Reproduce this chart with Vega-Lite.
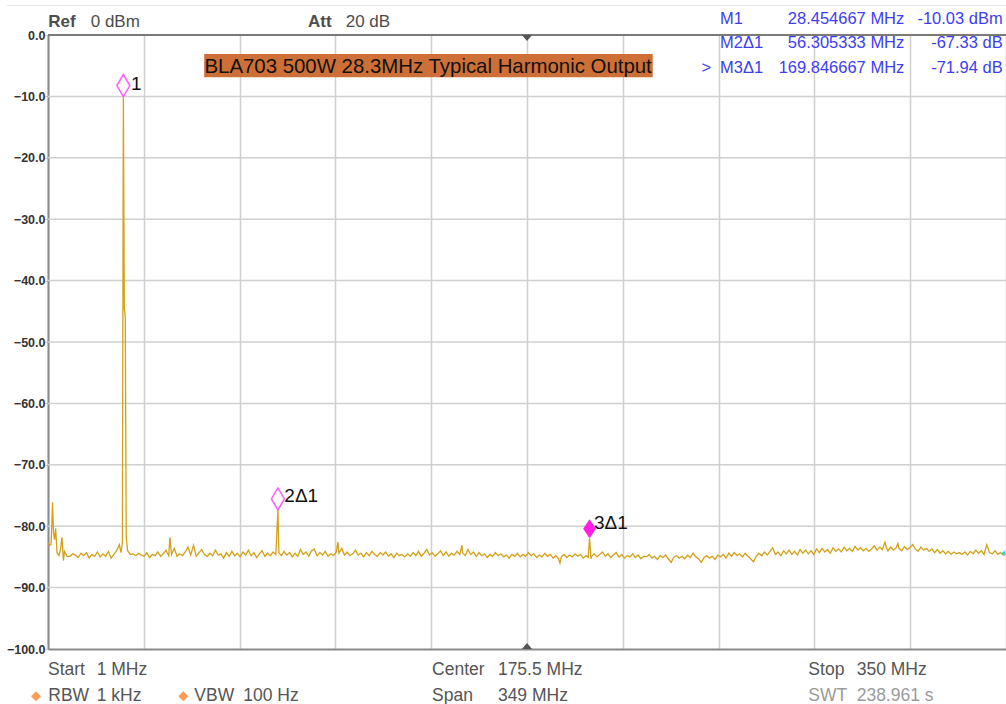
{
"$schema": "https://vega.github.io/schema/vega-lite/v6.json",
"width": 958,
"height": 614,
"autosize": {"type": "none"},
"padding": {"left": 48, "top": 35, "right": 0, "bottom": 55},
"background": "white",
"config": {
  "view": {"stroke": null},
  "axis": {"gridColor": "#d0d0d0", "gridWidth": 1.5, "domainColor": "#8a8a8a", "domainWidth": 2},
  "text": {"font": "Liberation Sans"}
},
"data": {"values": [{}]},
"datasets": {
"levels": [{"db":-10},{"db":-20},{"db":-30},{"db":-40},{"db":-50},{"db":-60},{"db":-70},{"db":-80},{"db":-90}],
"trace": [
{"f":1,"a":-82.8},{"f":1.7,"a":-83.1},{"f":2.1,"a":-83.0},{"f":2.4,"a":-79.7},{"f":2.65,"a":-76.1},{"f":3.0,"a":-81.0},{"f":3.4,"a":-82.2},{"f":3.8,"a":-80.4},{"f":4.3,"a":-84.4},{"f":5,"a":-84.8},{"f":5.5,"a":-83.9},{"f":6.1,"a":-81.8},{"f":6.6,"a":-85.6},{"f":7,"a":-84.1},{"f":8,"a":-84.9},
{"f":9,"a":-84.9},{"f":10,"a":-84.5},{"f":11,"a":-84.7},{"f":12,"a":-85.1},{"f":13,"a":-84.4},{"f":14,"a":-84.8},{"f":15,"a":-84.3},{"f":16,"a":-85.2},{"f":17,"a":-84.6},{"f":18,"a":-84.9},{"f":19,"a":-84.2},{"f":20,"a":-85.0},{"f":21,"a":-84.5},{"f":22,"a":-84.9},{"f":23,"a":-84.1},{"f":24,"a":-85.2},{"f":25,"a":-84.6},{"f":26,"a":-84.0},{"f":27,"a":-83.0},{"f":27.6,"a":-84.3},
{"f":28.1,"a":-82.7},{"f":28.45,"a":-10.03},{"f":28.8,"a":-44.5},{"f":29.15,"a":-46.0},{"f":29.5,"a":-81.8},{"f":30,"a":-84.0},
{"f":31,"a":-84.6},{"f":32,"a":-84.5},{"f":33,"a":-84.8},{"f":34,"a":-84.4},{"f":35,"a":-84.7},{"f":36,"a":-84.9},{"f":37,"a":-84.3},{"f":38,"a":-85.1},{"f":39,"a":-84.6},{"f":40,"a":-84.8},{"f":41,"a":-84.2},{"f":42,"a":-84.9},{"f":43,"a":-84.5},{"f":44,"a":-83.9},{"f":45,"a":-84.8},{"f":45.4,"a":-81.8},{"f":46,"a":-84.6},{"f":47,"a":-83.6},{"f":48,"a":-84.9},{"f":49,"a":-84.5},{"f":50,"a":-84.8},
{"f":51,"a":-84.2},{"f":52,"a":-83.4},{"f":53,"a":-84.7},{"f":54,"a":-83.1},{"f":55,"a":-84.9},{"f":56,"a":-84.3},{"f":57,"a":-83.8},{"f":58,"a":-84.6},{"f":59,"a":-84.9},{"f":60,"a":-84.4},{"f":61,"a":-84.8},{"f":62,"a":-83.9},{"f":63,"a":-84.7},{"f":64,"a":-84.5},{"f":65,"a":-85.2},{"f":66,"a":-84.3},{"f":67,"a":-84.9},{"f":68,"a":-84.1},{"f":69,"a":-84.8},{"f":70,"a":-84.4},
{"f":71,"a":-85.0},{"f":72,"a":-84.2},{"f":73,"a":-84.7},{"f":74,"a":-83.9},{"f":75,"a":-84.8},{"f":76,"a":-84.3},{"f":77,"a":-85.1},{"f":78,"a":-84.5},{"f":79,"a":-84.0},{"f":80,"a":-84.9},{"f":81,"a":-84.4},{"f":82,"a":-84.8},{"f":83,"a":-84.2},{"f":84,"a":-84.6},{"f":84.4,"a":-80.7},{"f":84.76,"a":-77.36},{"f":85.1,"a":-84.3},{"f":86,"a":-84.8},{"f":87,"a":-84.1},{"f":88,"a":-84.7},{"f":89,"a":-84.3},{"f":90,"a":-85.0},
{"f":91,"a":-84.4},{"f":92,"a":-84.9},{"f":93,"a":-83.8},{"f":94,"a":-84.6},{"f":95,"a":-84.2},{"f":96,"a":-84.9},{"f":97,"a":-84.0},{"f":98,"a":-83.7},{"f":99,"a":-84.8},{"f":100,"a":-84.3},{"f":101,"a":-84.7},{"f":102,"a":-84.1},{"f":103,"a":-84.9},{"f":104,"a":-84.5},{"f":105,"a":-84.8},{"f":106,"a":-84.2},{"f":106.6,"a":-82.6},{"f":107,"a":-84.4},{"f":108,"a":-83.6},{"f":109,"a":-84.7},{"f":110,"a":-84.2},
{"f":111,"a":-84.8},{"f":112,"a":-84.5},{"f":113,"a":-83.9},{"f":114,"a":-84.7},{"f":115,"a":-84.4},{"f":116,"a":-85.0},{"f":117,"a":-84.3},{"f":118,"a":-84.8},{"f":119,"a":-84.1},{"f":120,"a":-84.6},{"f":121,"a":-84.9},{"f":122,"a":-84.3},{"f":123,"a":-84.7},{"f":124,"a":-84.2},{"f":125,"a":-84.9},{"f":126,"a":-84.5},{"f":127,"a":-85.1},{"f":128,"a":-84.4},{"f":129,"a":-84.8},{"f":130,"a":-84.6},
{"f":131,"a":-85.0},{"f":132,"a":-84.5},{"f":133,"a":-84.9},{"f":134,"a":-84.3},{"f":135,"a":-84.8},{"f":136,"a":-84.1},{"f":137,"a":-84.9},{"f":138,"a":-84.4},{"f":139,"a":-83.8},{"f":140,"a":-84.7},{"f":141,"a":-84.3},{"f":142,"a":-84.9},{"f":143,"a":-84.5},{"f":144,"a":-84.0},{"f":145,"a":-84.8},{"f":146,"a":-84.2},{"f":147,"a":-84.9},{"f":148,"a":-84.4},{"f":149,"a":-84.7},{"f":150,"a":-84.1},
{"f":151,"a":-84.6},{"f":151.8,"a":-83.1},{"f":152,"a":-84.3},{"f":153,"a":-84.8},{"f":154,"a":-83.8},{"f":155,"a":-84.6},{"f":156,"a":-84.2},{"f":157,"a":-84.9},{"f":158,"a":-84.3},{"f":159,"a":-84.8},{"f":160,"a":-84.5},{"f":161,"a":-85.1},{"f":162,"a":-84.6},{"f":163,"a":-84.9},{"f":164,"a":-84.3},{"f":165,"a":-84.8},{"f":166,"a":-84.5},{"f":167,"a":-85.0},{"f":168,"a":-84.7},{"f":169,"a":-85.2},{"f":170,"a":-84.6},
{"f":171,"a":-84.9},{"f":172,"a":-84.4},{"f":173,"a":-85.0},{"f":174,"a":-84.6},{"f":175,"a":-84.9},{"f":176,"a":-84.3},{"f":177,"a":-84.8},{"f":178,"a":-84.5},{"f":179,"a":-85.1},{"f":180,"a":-84.7},{"f":181,"a":-85.0},{"f":182,"a":-84.4},{"f":183,"a":-84.9},{"f":184,"a":-84.6},{"f":185,"a":-85.2},{"f":186,"a":-84.8},{"f":187,"a":-85.3},{"f":187.5,"a":-86.0},{"f":188,"a":-85.0},{"f":189,"a":-84.6},{"f":190,"a":-85.1},
{"f":191,"a":-84.7},{"f":192,"a":-85.0},{"f":193,"a":-84.5},{"f":194,"a":-84.9},{"f":195,"a":-84.6},{"f":196,"a":-85.2},{"f":197,"a":-84.8},{"f":197.8,"a":-85.1},{"f":198.3,"a":-81.97},{"f":198.8,"a":-85.3},{"f":199,"a":-84.9},{"f":200,"a":-84.5},{"f":201,"a":-85.0},{"f":202,"a":-84.6},{"f":203,"a":-84.2},{"f":204,"a":-84.9},{"f":205,"a":-84.5},{"f":206,"a":-85.1},{"f":207,"a":-84.7},{"f":208,"a":-84.3},{"f":209,"a":-85.0},{"f":210,"a":-84.6},
{"f":211,"a":-85.2},{"f":212,"a":-84.8},{"f":213,"a":-85.0},{"f":214,"a":-84.5},{"f":215,"a":-85.1},{"f":216,"a":-84.7},{"f":217,"a":-85.3},{"f":218,"a":-84.9},{"f":219,"a":-85.0},{"f":220,"a":-84.6},{"f":221,"a":-85.2},{"f":222,"a":-84.9},{"f":223,"a":-85.4},{"f":224,"a":-84.8},{"f":225,"a":-85.1},{"f":226,"a":-84.7},{"f":227,"a":-85.3},{"f":228,"a":-85.9},{"f":229,"a":-85.0},{"f":230,"a":-84.8},
{"f":231,"a":-85.2},{"f":232,"a":-84.9},{"f":233,"a":-85.3},{"f":234,"a":-84.7},{"f":235,"a":-85.1},{"f":236,"a":-84.4},{"f":237,"a":-85.0},{"f":238,"a":-85.3},{"f":239,"a":-85.9},{"f":240,"a":-85.1},{"f":241,"a":-84.8},{"f":242,"a":-85.2},{"f":243,"a":-84.9},{"f":244,"a":-85.4},{"f":245,"a":-84.7},{"f":246,"a":-85.0},{"f":247,"a":-84.6},{"f":248,"a":-85.2},{"f":249,"a":-84.4},{"f":250,"a":-84.9},
{"f":251,"a":-84.3},{"f":252,"a":-84.8},{"f":253,"a":-84.5},{"f":254,"a":-85.0},{"f":255,"a":-84.4},{"f":256,"a":-84.9},{"f":257,"a":-85.3},{"f":258,"a":-85.8},{"f":259,"a":-84.9},{"f":260,"a":-84.4},{"f":261,"a":-84.8},{"f":262,"a":-84.2},{"f":263,"a":-84.7},{"f":264,"a":-84.1},{"f":265,"a":-83.5},{"f":266,"a":-84.6},{"f":267,"a":-84.2},{"f":268,"a":-84.8},{"f":269,"a":-84.0},{"f":270,"a":-84.5},
{"f":271,"a":-83.9},{"f":272,"a":-84.6},{"f":273,"a":-84.1},{"f":274,"a":-84.7},{"f":275,"a":-83.8},{"f":276,"a":-84.4},{"f":277,"a":-83.9},{"f":278,"a":-84.5},{"f":279,"a":-84.0},{"f":280,"a":-84.6},{"f":281,"a":-83.7},{"f":282,"a":-84.3},{"f":283,"a":-83.6},{"f":284,"a":-84.2},{"f":285,"a":-83.8},{"f":286,"a":-84.4},{"f":287,"a":-83.5},{"f":288,"a":-84.1},{"f":289,"a":-83.7},{"f":290,"a":-84.2},
{"f":291,"a":-83.4},{"f":292,"a":-84.0},{"f":293,"a":-83.6},{"f":294,"a":-84.1},{"f":295,"a":-83.3},{"f":296,"a":-83.9},{"f":297,"a":-83.5},{"f":298,"a":-84.0},{"f":299,"a":-83.6},{"f":300,"a":-84.1},{"f":301,"a":-83.7},{"f":302,"a":-83.2},{"f":303,"a":-83.9},{"f":304,"a":-83.4},{"f":305,"a":-83.8},{"f":305.9,"a":-82.6},{"f":306.5,"a":-83.6},{"f":307,"a":-84.0},{"f":308,"a":-83.4},{"f":309,"a":-83.9},{"f":310,"a":-83.5},
{"f":310.6,"a":-82.8},{"f":311,"a":-83.6},{"f":312,"a":-84.0},{"f":313,"a":-83.3},{"f":314,"a":-83.8},{"f":315,"a":-83.5},{"f":316,"a":-83.0},{"f":317,"a":-83.7},{"f":318,"a":-84.1},{"f":319,"a":-83.4},{"f":320,"a":-83.9},{"f":321,"a":-83.6},{"f":322,"a":-84.1},{"f":323,"a":-83.7},{"f":324,"a":-84.3},{"f":325,"a":-83.8},{"f":326,"a":-84.4},{"f":327,"a":-84.0},{"f":328,"a":-84.5},{"f":329,"a":-84.1},{"f":330,"a":-84.6},
{"f":331,"a":-84.2},{"f":332,"a":-84.5},{"f":333,"a":-84.3},{"f":334,"a":-84.6},{"f":335,"a":-84.2},{"f":336,"a":-84.7},{"f":337,"a":-84.1},{"f":338,"a":-84.5},{"f":339,"a":-83.9},{"f":340,"a":-84.4},{"f":341,"a":-84.0},{"f":342,"a":-84.6},{"f":343,"a":-83.0},{"f":344,"a":-84.3},{"f":345,"a":-84.5},{"f":346,"a":-84.0},{"f":347,"a":-84.6},{"f":348,"a":-84.3},{"f":349,"a":-84.7},{"f":350,"a":-84.5}
]
},
"layer": [
{"data": {"name": "levels"},
 "mark": {"type": "rule", "color": "#d0d0d0", "strokeWidth": 1.5, "opacity": 1},
 "encoding": {"y": {"field": "db", "type": "quantitative"}, "x": {"datum": 1}, "x2": {"datum": 350}}},
{"data": {"name": "trace"},
 "mark": {"type": "line", "color": "#d4a017", "strokeWidth": 1.3},
 "encoding": {
  "x": {"field": "f", "type": "quantitative",
        "scale": {"domain": [1, 350], "nice": false, "zero": false},
        "axis": {"title": null, "values": [1, 35.9, 70.8, 105.7, 140.6, 175.5, 210.4, 245.3, 280.2, 315.1, 350], "labels": false, "ticks": false, "domain": true, "grid": true}},
  "y": {"field": "a", "type": "quantitative",
        "scale": {"domain": [-100, 0], "nice": false, "zero": false},
        "axis": {"title": null, "grid": false, "values": [0, -10, -20, -30, -40, -50, -60, -70, -80, -90, -100], "format": ".1f",
                 "labelFont": "Liberation Sans", "labelFontWeight": "bold", "labelFontSize": 12.5, "labelColor": "#333333",
                 "labelBaseline": "middle", "tickSize": 3, "tickColor": "#c8c8c8", "labelPadding": 0, "labelFlush": false}}
 }},
{"mark": {"type": "rule", "color": "#e6e6e6", "strokeWidth": 1},
 "encoding": {"x": {"datum": -13.9}, "x2": {"datum": 360}, "y": {"datum": 4.8}}},
{"mark": {"type": "rule", "color": "#7a7a7a", "strokeWidth": 2},
 "encoding": {"x": {"datum": 1}, "x2": {"datum": 352}, "y": {"datum": 0}}},
{"mark": {"type": "point", "shape": "M-0.85,0L0.85,0L0,1Z", "size": 144, "filled": true, "color": "#555555", "opacity": 1},
 "encoding": {"x": {"datum": 175.5}, "y": {"datum": 0}}},
{"mark": {"type": "point", "shape": "M-0.85,0L0.85,0L0,-1Z", "size": 144, "filled": true, "color": "#555555", "opacity": 1},
 "encoding": {"x": {"datum": 175.5}, "y": {"datum": -100}}},
{"mark": {"type": "point", "shape": "M-1,0L0,-0.8L0,0.8Z", "size": 49, "filled": true, "color": "#22d3e6", "opacity": 1},
 "encoding": {"x": {"datum": 349.6}, "y": {"datum": -84.4}}},
{"mark": {"type": "rect", "color": "#cf6f38"},
 "encoding": {"x": {"datum": 57.9}, "x2": {"datum": 221.3}, "y": {"datum": -3.1}, "y2": {"datum": -6.9}}},
{"mark": {"type": "text", "text": "BLA703 500W 28.3MHz Typical Harmonic Output", "align": "left", "baseline": "middle", "fontSize": 20.4, "color": "#111111", "dy": 1},
 "encoding": {"x": {"datum": 58.0}, "y": {"datum": -5.0}}},
{"mark": {"type": "point", "shape": "M0,0L-0.59,-1L0,-2L0.59,-1Z", "size": 484, "filled": false, "stroke": "#ff5cff", "strokeWidth": 1.5, "opacity": 1},
 "encoding": {"x": {"datum": 28.45}, "y": {"datum": -10.03}}},
{"mark": {"type": "point", "shape": "M0,0L-0.59,-1L0,-2L0.59,-1Z", "size": 484, "filled": false, "stroke": "#ff5cff", "strokeWidth": 1.5, "opacity": 1},
 "encoding": {"x": {"datum": 84.76}, "y": {"datum": -77.36}}},
{"mark": {"type": "point", "shape": "M0,0L-0.68,-1L0,-2L0.68,-1Z", "size": 361, "filled": true, "color": "#ff1fe6", "opacity": 1},
 "encoding": {"x": {"datum": 198.3}, "y": {"datum": -81.97}}},
{"mark": {"type": "text", "text": "1", "align": "left", "baseline": "middle", "fontSize": 19, "color": "#111111"},
 "encoding": {"x": {"datum": 31.2}, "y": {"datum": -8.0}}},
{"mark": {"type": "text", "text": "2Δ1", "align": "left", "baseline": "middle", "fontSize": 19, "color": "#111111"},
 "encoding": {"x": {"datum": 87.1}, "y": {"datum": -75.0}}},
{"mark": {"type": "text", "text": "3Δ1", "align": "left", "baseline": "middle", "fontSize": 19, "color": "#111111"},
 "encoding": {"x": {"datum": 199.9}, "y": {"datum": -79.5}}},
{"mark": {"type": "text", "text": "Ref", "align": "left", "baseline": "middle", "fontSize": 17, "fontWeight": "bold", "color": "#4d4d4d"},
 "encoding": {"x": {"datum": 1.1}, "y": {"datum": 2.1}}},
{"mark": {"type": "text", "text": "0 dBm", "align": "left", "baseline": "middle", "fontSize": 17, "color": "#4d4d4d"},
 "encoding": {"x": {"datum": 16.56}, "y": {"datum": 2.1}}},
{"mark": {"type": "text", "text": "Att", "align": "left", "baseline": "middle", "fontSize": 17, "fontWeight": "bold", "color": "#4d4d4d"},
 "encoding": {"x": {"datum": 95.7}, "y": {"datum": 2.1}}},
{"mark": {"type": "text", "text": "20 dB", "align": "left", "baseline": "middle", "fontSize": 17, "color": "#4d4d4d"},
 "encoding": {"x": {"datum": 109.45}, "y": {"datum": 2.1}}},
{"mark": {"type": "text", "text": "M1", "align": "left", "baseline": "middle", "fontSize": 16.5, "color": "#3d3df2"},
 "encoding": {"x": {"datum": 245.8}, "y": {"datum": 2.6}}},
{"mark": {"type": "text", "text": "28.454667 MHz", "align": "right", "baseline": "middle", "fontSize": 16.5, "color": "#3d3df2"},
 "encoding": {"x": {"datum": 312.95}, "y": {"datum": 2.6}}},
{"mark": {"type": "text", "text": "-10.03 dBm", "align": "right", "baseline": "middle", "fontSize": 16.5, "color": "#3d3df2"},
 "encoding": {"x": {"datum": 348.8}, "y": {"datum": 2.6}}},
{"mark": {"type": "text", "text": "M2Δ1", "align": "left", "baseline": "middle", "fontSize": 16.5, "color": "#3d3df2"},
 "encoding": {"x": {"datum": 245.8}, "y": {"datum": -1.3}}},
{"mark": {"type": "text", "text": "56.305333 MHz", "align": "right", "baseline": "middle", "fontSize": 16.5, "color": "#3d3df2"},
 "encoding": {"x": {"datum": 312.95}, "y": {"datum": -1.3}}},
{"mark": {"type": "text", "text": "-67.33 dB", "align": "right", "baseline": "middle", "fontSize": 16.5, "color": "#3d3df2"},
 "encoding": {"x": {"datum": 348.8}, "y": {"datum": -1.3}}},
{"mark": {"type": "text", "text": ">", "align": "left", "baseline": "middle", "fontSize": 16.5, "color": "#3d3df2"},
 "encoding": {"x": {"datum": 239.1}, "y": {"datum": -5.38}}},
{"mark": {"type": "text", "text": "M3Δ1", "align": "left", "baseline": "middle", "fontSize": 16.5, "color": "#3d3df2"},
 "encoding": {"x": {"datum": 245.8}, "y": {"datum": -5.38}}},
{"mark": {"type": "text", "text": "169.846667 MHz", "align": "right", "baseline": "middle", "fontSize": 16.5, "color": "#3d3df2"},
 "encoding": {"x": {"datum": 312.95}, "y": {"datum": -5.38}}},
{"mark": {"type": "text", "text": "-71.94 dB", "align": "right", "baseline": "middle", "fontSize": 16.5, "color": "#3d3df2"},
 "encoding": {"x": {"datum": 348.8}, "y": {"datum": -5.38}}},
{"mark": {"type": "text", "text": "Start", "align": "left", "baseline": "middle", "fontSize": 17.5, "color": "#555555"},
 "encoding": {"x": {"datum": 1.0}, "y": {"datum": -103.35}}},
{"mark": {"type": "text", "text": "1 MHz", "align": "left", "baseline": "middle", "fontSize": 17.5, "color": "#555555"},
 "encoding": {"x": {"datum": 18.74}, "y": {"datum": -103.35}}},
{"mark": {"type": "text", "text": "Center", "align": "left", "baseline": "middle", "fontSize": 17.5, "color": "#555555"},
 "encoding": {"x": {"datum": 140.9}, "y": {"datum": -103.35}}},
{"mark": {"type": "text", "text": "175.5 MHz", "align": "left", "baseline": "middle", "fontSize": 17.5, "color": "#555555"},
 "encoding": {"x": {"datum": 164.9}, "y": {"datum": -103.35}}},
{"mark": {"type": "text", "text": "Stop", "align": "left", "baseline": "middle", "fontSize": 17.5, "color": "#555555"},
 "encoding": {"x": {"datum": 278.0}, "y": {"datum": -103.35}}},
{"mark": {"type": "text", "text": "350 MHz", "align": "left", "baseline": "middle", "fontSize": 17.5, "color": "#555555"},
 "encoding": {"x": {"datum": 295.6}, "y": {"datum": -103.35}}},
{"mark": {"type": "point", "shape": "diamond", "size": 100, "filled": true, "color": "#ff8c3a", "opacity": 0.85},
 "encoding": {"x": {"datum": -3.37}, "y": {"datum": -107.7}}},
{"mark": {"type": "point", "shape": "diamond", "size": 100, "filled": true, "color": "#ff8c3a", "opacity": 0.85},
 "encoding": {"x": {"datum": 50.3}, "y": {"datum": -107.7}}},
{"mark": {"type": "text", "text": "RBW", "align": "left", "baseline": "middle", "fontSize": 17.5, "color": "#555555"},
 "encoding": {"x": {"datum": 1.1}, "y": {"datum": -107.7}}},
{"mark": {"type": "text", "text": "1 kHz", "align": "left", "baseline": "middle", "fontSize": 17.5, "color": "#555555"},
 "encoding": {"x": {"datum": 18.74}, "y": {"datum": -107.7}}},
{"mark": {"type": "text", "text": "VBW", "align": "left", "baseline": "middle", "fontSize": 17.5, "color": "#555555"},
 "encoding": {"x": {"datum": 54.3}, "y": {"datum": -107.7}}},
{"mark": {"type": "text", "text": "100 Hz", "align": "left", "baseline": "middle", "fontSize": 17.5, "color": "#555555"},
 "encoding": {"x": {"datum": 72.15}, "y": {"datum": -107.7}}},
{"mark": {"type": "text", "text": "Span", "align": "left", "baseline": "middle", "fontSize": 17.5, "color": "#555555"},
 "encoding": {"x": {"datum": 140.9}, "y": {"datum": -107.7}}},
{"mark": {"type": "text", "text": "349 MHz", "align": "left", "baseline": "middle", "fontSize": 17.5, "color": "#555555"},
 "encoding": {"x": {"datum": 164.9}, "y": {"datum": -107.7}}},
{"mark": {"type": "text", "text": "SWT", "align": "left", "baseline": "middle", "fontSize": 17.5, "color": "#9a9a9a"},
 "encoding": {"x": {"datum": 278.0}, "y": {"datum": -107.7}}},
{"mark": {"type": "text", "text": "238.961 s", "align": "left", "baseline": "middle", "fontSize": 17.5, "color": "#9a9a9a"},
 "encoding": {"x": {"datum": 295.6}, "y": {"datum": -107.7}}}
]
}
